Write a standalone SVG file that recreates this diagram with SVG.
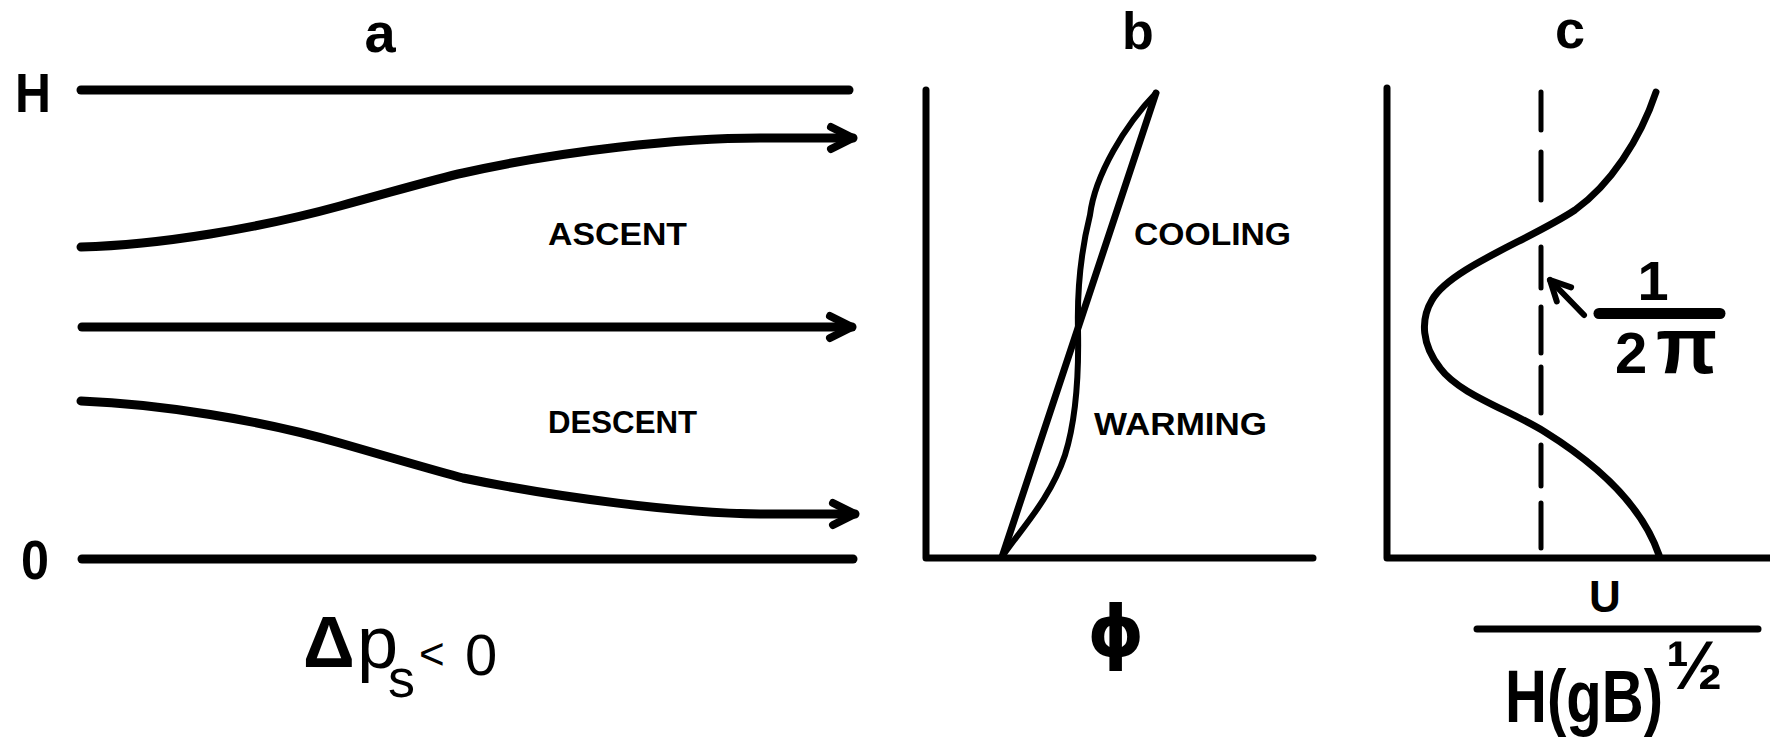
<svg xmlns="http://www.w3.org/2000/svg" width="1770" height="741" viewBox="0 0 1770 741">
<style>
text{font-family:"Liberation Sans",Arial,sans-serif;fill:#000}
.lbl{font-weight:bold;text-anchor:middle}
.cap{font-weight:bold;font-size:32px}
.math{font-weight:bold}
.ln{fill:none;stroke:#000;stroke-linecap:round;stroke-linejoin:round}
.thick{stroke-width:9}
.ax{stroke-width:7}
.thin{stroke-width:6}
</style>
<defs>
<marker id="ah" markerUnits="userSpaceOnUse" viewBox="-30 -16 36 32" refX="0" refY="0" markerWidth="36" markerHeight="32" orient="auto" overflow="visible">
<path d="M-22,-11 L0,0 L-22,11" fill="none" stroke="#000" stroke-width="8" stroke-linecap="round" stroke-linejoin="round"/>
</marker>
<marker id="ahs" markerUnits="userSpaceOnUse" viewBox="-30 -16 36 32" refX="0" refY="0" markerWidth="36" markerHeight="32" orient="auto" overflow="visible">
<path d="M-20,-10 L0,0 L-20,10" fill="none" stroke="#000" stroke-width="6" stroke-linecap="round" stroke-linejoin="round"/>
</marker>
</defs>
<rect width="1770" height="741" fill="#fff"/>

<g id="panel-a">
<text class="lbl" x="380" y="52" style="font-size:56px">a</text>
<text class="lbl" x="33" y="112" style="font-size:56px" textLength="36" lengthAdjust="spacingAndGlyphs">H</text>
<text class="lbl" x="35" y="579" style="font-size:56px" textLength="28" lengthAdjust="spacingAndGlyphs">0</text>
<text class="cap" x="548" y="245" textLength="139" lengthAdjust="spacingAndGlyphs">ASCENT</text>
<text class="cap" x="548" y="433" textLength="149" lengthAdjust="spacingAndGlyphs">DESCENT</text>
<text id="dps" class="math" x="303" y="667" style="font-size:72px"><tspan x="303" y="667">Δ</tspan><tspan x="357" y="668" style="font-weight:normal;font-size:74px">p</tspan><tspan x="388" y="697" style="font-weight:normal;font-size:54px">s</tspan><tspan x="419" y="669" style="font-weight:normal;font-size:44px">&lt;</tspan><tspan x="465" y="675" style="font-weight:normal;font-size:58px">0</tspan></text>
</g>

<g id="panel-b">
<text class="lbl" x="1138" y="49" style="font-size:52px">b</text>
<text class="cap" x="1134" y="245" textLength="157" lengthAdjust="spacingAndGlyphs">COOLING</text>
<text class="cap" x="1094" y="435" textLength="173" lengthAdjust="spacingAndGlyphs">WARMING</text>
<text x="1116" y="656" text-anchor="middle" style="font-family:'DejaVu Sans',sans-serif;font-weight:bold;font-size:72px">ϕ</text>
</g>

<g id="panel-c">
<text class="lbl" x="1570" y="48" style="font-size:54px">c</text>
<text class="math" x="1653" y="300" style="font-size:56px" text-anchor="middle">1</text>
<text class="math" x="1615" y="373" style="font-size:58px"><tspan x="1615" y="373">2</tspan><tspan x="1656" y="373" style="font-size:80px">π</tspan></text>
<text class="math" x="1605" y="612" style="font-size:44px" text-anchor="middle">U</text>
<text class="math" x="1505" y="722" style="font-size:74px"><tspan x="1505" y="722" textLength="158" lengthAdjust="spacingAndGlyphs">H(gB)</tspan><tspan x="1666" y="689" style="font-size:68px">½</tspan></text>
</g>

<g id="connectors">
<path class="ln thick" d="M81,90 L849,90"/>
<path class="ln thick" d="M81,247 C160,245 260,228 340,206 S440,178 463,173 C560,151 680,138 760,138 L853,138" marker-end="url(#ah)"/>
<path class="ln thick" d="M82,327 L852,327" marker-end="url(#ah)"/>
<path class="ln thick" d="M81,401 C160,404 260,420 340,443 S440,472 463,478 C560,498 680,513 760,514 L855,514" marker-end="url(#ah)"/>
<path class="ln thick" d="M82,559 L853,559"/>
<path class="ln ax" d="M926,90 L926,558 L1313,558"/>
<path class="ln ax" d="M1002,557 L1156,93"/>
<path class="ln thin" d="M1156,93 C1125,125 1095,175 1090,215 C1080,255 1077,290 1078,330 C1079,380 1076,420 1065,455 C1050,500 1020,530 1002,557"/>
<path class="ln ax" d="M1387,88 L1387,558 L1770,558"/>
<path class="ln" stroke-width="5" d="M1541,92 L1541,130 M1541,152 L1541,200 M1541,247 L1541,288 M1541,307 L1541,353 M1541,367 L1541,413 M1541,445 L1541,486 M1541,503 L1541,548"/>
<path class="ln" stroke-width="7" d="M1656,92 C1640,140 1610,185 1575,210 C1530,240 1450,268 1432,300 C1420,320 1422,345 1440,368 C1460,395 1510,410 1545,432 C1590,460 1640,500 1659,555"/>
<path class="ln thin" d="M1584,315 L1550,280" marker-end="url(#ahs)"/>
<path class="ln" stroke-width="11" stroke-linecap="butt" d="M1599,313.5 L1720,313.5"/>
<path class="ln" stroke-width="7" d="M1477,629 L1758,629"/>
</g>
</svg>
